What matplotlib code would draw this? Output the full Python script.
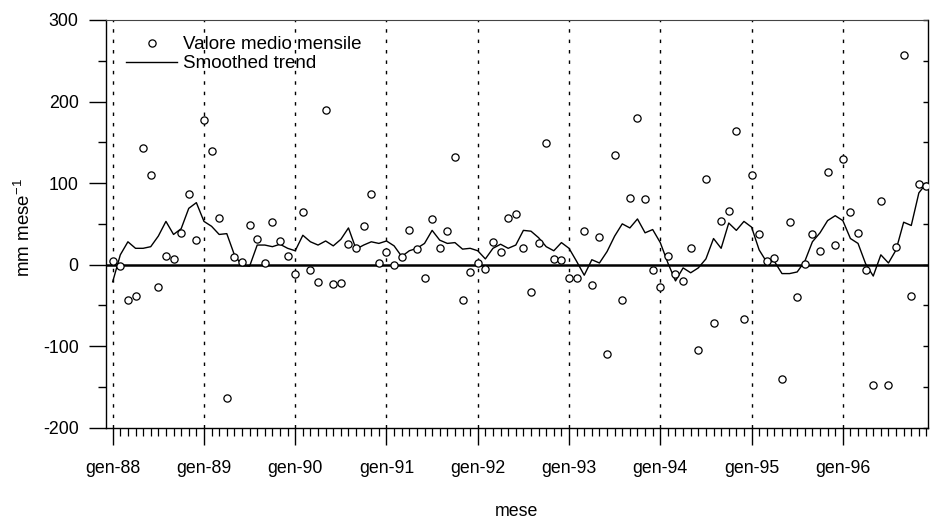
import matplotlib
matplotlib.use("Agg")
import matplotlib.pyplot as plt
import numpy as np

plt.rcParams['font.family'] = ['Liberation Sans', 'DejaVu Sans']
plt.rcParams['axes.unicode_minus'] = False
plt.rcParams['mathtext.default'] = 'regular'

year_labels = ["gen-88", "gen-89", "gen-90", "gen-91", "gen-92",
               "gen-93", "gen-94", "gen-95", "gen-96"]

monthly_values = [
    4, -2, -44, -38, 143, 110, -28, 10, 7, 39, 87, 30,
    177, 139, 57, -164, 9, 3, 48, 32, 2, 52, 29, 11,
    -11, 65, -7, -21, 190, -24, -22, 25, 20, 47, 87, 2,
    16, -1, 9, 42, 19, -16, 56, 20, 41, 132, -44, -9,
    2, -5, 28, 15, 57, 62, 20, -33, 27, 149, 7, 6,
    -16, -17, 41, -25, 34, -110, 134, -43, 82, 180, 80, -7,
    -28, 11, -12, -20, 20, -105, 105, -71, 53, 66, 164, -67,
    110, 38, 5, 8, -140, 52, -40, 1, 37, 17, 114, 24,
    130, 64, 39, -6, -148, 78, -148, 22, 257, -38, 99, 97,
]

smoothed_trend = [
    -21, 12, 28, 20, 20, 22, 35, 53, 37, 44, 69, 76,
    53, 47, 37, 38, 12, -1, -2, 24, 24, 22, 25, 20,
    17, 36, 28, 24, 29, 23, 31, 45, 19, 24, 28, 26,
    29, 23, 10, 17, 20, 26, 42, 30, 26, 27, 19, 20,
    17, 7, 20, 25, 20, 24, 42, 41, 33, 22, 17, 27,
    20, 4, -13, 6, 2, 16, 35, 50, 45, 56, 39, 43,
    27, 2, -20, -4, -10, -4, 7, 32, 20, 51, 42, 53,
    46, 18, 3, 4, -11, -11, -9, 4, 28, 39, 54, 60,
    54, 32, 26, 1, -14, 12, 2, 18, 52, 48, 88, 100,
]

months = np.arange(len(monthly_values))
year_ticks = np.arange(0, 12 * len(year_labels), 12)

W, H = 932, 520
fig = plt.figure(figsize=(W / 100, H / 100), dpi=100)
L, R, T, B = 105.7, 928.0, 20.0, 427.7
ax = fig.add_axes([L / W, 1 - B / H, (R - L) / W, (B - T) / H])

# vertical dashed year lines
for xv in year_ticks:
    ax.axvline(xv, color='black', lw=1.0, linestyle=(0, (2.5, 5)), zorder=1)

ax.axhline(0, color='black', lw=1.8, zorder=2)

ax.plot(months, smoothed_trend, color='black', lw=1.0, zorder=3,
        label='Smoothed trend')
ax.plot(months, monthly_values, linestyle='none', marker='o', markersize=5.2,
        markerfacecolor='white', markeredgecolor='black', markeredgewidth=0.9,
        zorder=4, label='Valore medio mensile')

ax.set_xlim(-0.92, 107.2)
ax.set_ylim(-200, 300)

ax.set_xticks(year_ticks)
ax.set_xticklabels(year_labels)
ax.set_xticks(months, minor=True)
ax.set_yticks(np.arange(-200, 301, 100))
ax.set_yticks(np.arange(-200, 301, 50), minor=True)

ax.tick_params(axis='x', which='major', direction='out', length=12.5, width=1.0,
               labelsize=12.8, pad=11)
ax.tick_params(axis='x', which='minor', direction='out', length=5.5, width=0.9)
ax.tick_params(axis='y', which='major', direction='out', length=12.5, width=1.0,
               labelsize=12.8, pad=7, right=True)
ax.tick_params(axis='y', which='minor', direction='out', length=6, width=1.0,
               right=True)
# right side ticks go inward, short
for t in ax.yaxis.get_major_ticks() + ax.yaxis.get_minor_ticks():
    t.tick2line.set_markersize(3.5)
    t.tick2line.set_marker(matplotlib.lines.TICKLEFT)

ax.spines['top'].set_linestyle((0, (1.5, 1.0)))
ax.spines['top'].set_linewidth(0.8)
ax.spines['top'].set_color('#444444')
for s in ('left', 'right', 'bottom'):
    ax.spines[s].set_linewidth(1.0)

ax.set_ylabel('mm mese$^{-1}$', fontsize=13.5)
ax.yaxis.set_label_coords(-0.087, 0.49)
ax.set_xlabel('mese', fontsize=12.8)
ax.xaxis.set_label_coords(0.5, -0.185)

handles, labels = ax.get_legend_handles_labels()
leg = ax.legend(handles[::-1], labels[::-1], loc='upper left',
                bbox_to_anchor=(0.0085, 0.993), frameon=False, fontsize=13.5,
                handlelength=2.75, handletextpad=0.3, labelspacing=0.1,
                borderpad=0.2, numpoints=1)

fig.savefig('out.png', dpi=100)
